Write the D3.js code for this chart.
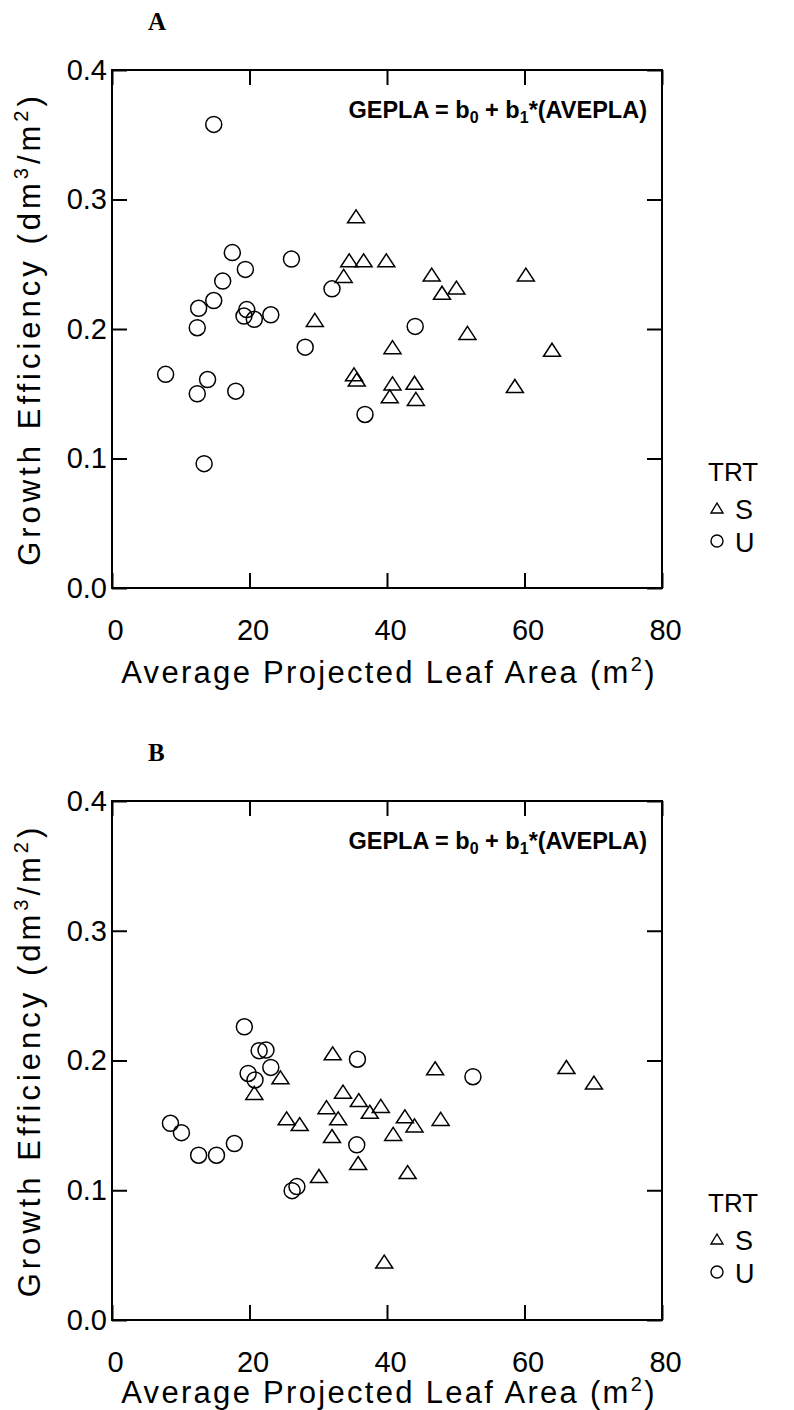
<!DOCTYPE html>
<html>
<head>
<meta charset="utf-8">
<script src="https://cdn.jsdelivr.net/npm/d3@7/dist/d3.min.js"></script>
<style>
  html, body { margin: 0; padding: 0; background: #fff; }
  svg { display: block; }
</style>
</head>
<body>
<svg id="chart" width="794" height="1410"></svg>
<script>
// ---------------- data ----------------
const xTickValues = [0, 20, 40, 60, 80];
const yTickValues = [0.0, 0.1, 0.2, 0.3, 0.4];
const legendTitle = "TRT";
const legendLabels = ["S", "U"];
const panelLabels = ["A", "B"];

// Panel A, treatment S (triangles): [AVEPLA, GEPLA]
const panelA_S = [
  [35.5, 0.287], [34.5, 0.253], [36.6, 0.253], [39.9, 0.253], [33.7, 0.241],
  [46.5, 0.242], [60.2, 0.242], [50.1, 0.232], [48.0, 0.228], [29.5, 0.207],
  [51.7, 0.197], [40.8, 0.186], [64.0, 0.184], [35.2, 0.165], [35.6, 0.161],
  [40.8, 0.158], [44.0, 0.1585], [40.4, 0.148], [44.2, 0.146], [58.6, 0.156]
];
// Panel A, treatment U (circles)
const panelA_U = [
  [14.8, 0.358], [17.5, 0.259], [26.1, 0.254], [19.4, 0.246], [16.1, 0.237],
  [32.0, 0.231], [14.8, 0.222], [12.6, 0.216], [19.6, 0.215], [19.2, 0.210],
  [20.7, 0.2075], [23.1, 0.211], [12.4, 0.201], [44.1, 0.202], [28.1, 0.186],
  [7.8, 0.165], [13.9, 0.161], [12.4, 0.150], [18.0, 0.152], [36.8, 0.134],
  [13.4, 0.096]
];
// Panel B, treatment S (triangles)
const panelB_S = [
  [32.1, 0.2055], [24.5, 0.187], [20.7, 0.175], [33.6, 0.176], [31.2, 0.164],
  [35.9, 0.1695], [37.5, 0.1605], [39.1, 0.165], [25.4, 0.1554], [27.3, 0.151],
  [32.9, 0.1554], [32.0, 0.1418], [40.9, 0.1434], [35.8, 0.121], [30.1, 0.111],
  [39.6, 0.045], [47.0, 0.194], [66.1, 0.195], [70.1, 0.183], [42.6, 0.157],
  [44.0, 0.150], [47.8, 0.155], [43.0, 0.114]
];
// Panel B, treatment U (circles)
const panelB_U = [
  [19.25, 0.226], [21.4, 0.2076], [22.4, 0.208], [23.1, 0.1947], [19.8, 0.190],
  [20.8, 0.185], [35.7, 0.201], [8.5, 0.1516], [10.1, 0.1444], [12.6, 0.127],
  [15.2, 0.127], [17.8, 0.136], [35.6, 0.135], [26.2, 0.0997], [26.9, 0.1028],
  [52.5, 0.1875]
];

// ---------------- layout ----------------
const SANS = "'Liberation Sans', Arial, Helvetica, sans-serif";
const SERIF = "'Liberation Serif', 'Times New Roman', serif";
const svg = d3.select("#chart");
const left = 112, right = 662;
const panels = [
  { label: panelLabels[0], top: 70, bottom: 588, titleGap: 95, S: panelA_S, U: panelA_U },
  { label: panelLabels[1], top: 801, bottom: 1320, titleGap: 83, S: panelB_S, U: panelB_U }
];
const tickLen = 15;
const fmt = d3.format(".1f");

function triPath(w, h) {
  return `M0,${-h/2}L${w/2},${h/2}L${-w/2},${h/2}Z`;
}

panels.forEach(p => {
  const x = d3.scaleLinear().domain([0, 80]).range([left, right]);
  const y = d3.scaleLinear().domain([0, 0.4]).range([p.bottom, p.top]);
  const g = svg.append("g").style("font-family", SANS);

  // bottom axis with labels
  const xb = g.append("g").attr("transform", `translate(0,${p.bottom})`)
    .call(d3.axisBottom(x).tickValues(xTickValues).tickSizeInner(-tickLen).tickSizeOuter(0).tickPadding(31));
  xb.select(".domain").remove();
  xb.selectAll("text").style("font-family", SANS).style("font-size", "29px").attr("fill", "#000").attr("dx", 3);
  // top axis (ticks only)
  const xt = g.append("g").attr("transform", `translate(0,${p.top})`)
    .call(d3.axisTop(x).tickValues(xTickValues).tickSizeInner(-tickLen).tickSizeOuter(0).tickFormat(""));
  xt.select(".domain").remove();
  // left axis with labels
  const yl = g.append("g").attr("transform", `translate(${left},0)`)
    .call(d3.axisLeft(y).tickValues(yTickValues).tickSizeInner(-tickLen).tickSizeOuter(0).tickPadding(5).tickFormat(fmt));
  yl.select(".domain").remove();
  yl.selectAll("text").style("font-family", SANS).style("font-size", "29px").attr("fill", "#000");
  // right axis (ticks only)
  const yr = g.append("g").attr("transform", `translate(${right},0)`)
    .call(d3.axisRight(y).tickValues(yTickValues).tickSizeInner(-tickLen).tickSizeOuter(0).tickFormat(""));
  yr.select(".domain").remove();
  g.selectAll(".tick line").attr("stroke", "#000").attr("stroke-width", 2);

  // frame
  g.append("rect").attr("x", left).attr("y", p.top)
    .attr("width", right - left).attr("height", p.bottom - p.top)
    .attr("fill", "none").attr("stroke", "#000").attr("stroke-width", 2);

  // axis titles
  const xt2 = g.append("text").attr("x", (left + right) / 2 + 2).attr("y", p.bottom + p.titleGap)
    .attr("text-anchor", "middle").style("font-size", "31px").attr("letter-spacing", 2.3);
  xt2.append("tspan").text("Average Projected Leaf Area (m");
  xt2.append("tspan").style("font-size", "20px").attr("dy", -12).text("2");
  xt2.append("tspan").attr("dy", 12).text(")");

  const yt = g.append("text")
    .attr("transform", `translate(40,${(p.top + p.bottom) / 2}) rotate(-90)`)
    .attr("text-anchor", "middle").style("font-size", "31px").attr("letter-spacing", 4);
  yt.append("tspan").text("Growth Efficiency (dm");
  yt.append("tspan").style("font-size", "20px").attr("dy", -12).text("3");
  yt.append("tspan").attr("dy", 12).text("/m");
  yt.append("tspan").style("font-size", "20px").attr("dy", -12).text("2");
  yt.append("tspan").attr("dy", 12).text(")");

  // equation
  const eq = g.append("text").attr("x", 647).attr("y", p.top + 48)
    .attr("text-anchor", "end").style("font-size", "23.5px").attr("font-weight", "bold");
  eq.append("tspan").text("GEPLA = b");
  eq.append("tspan").style("font-size", "16px").attr("dy", 5).text("0");
  eq.append("tspan").attr("dy", -5).text(" + b");
  eq.append("tspan").style("font-size", "16px").attr("dy", 5).text("1");
  eq.append("tspan").attr("dy", -5).text("*(AVEPLA)");

  // panel label
  g.append("text").attr("x", 148).attr("y", p.top - 40)
    .style("font-family", SERIF).attr("font-weight", "bold").style("font-size", "25px").text(p.label);

  // points
  g.selectAll("circle.pt").data(p.U).join("circle").attr("class", "pt")
    .attr("cx", d => x(d[0])).attr("cy", d => y(d[1])).attr("r", 8)
    .attr("fill", "none").attr("stroke", "#000").attr("stroke-width", 1.5);
  g.selectAll("path.pt").data(p.S).join("path").attr("class", "pt")
    .attr("transform", d => `translate(${x(d[0])},${y(d[1])})`)
    .attr("d", triPath(17, 13))
    .attr("fill", "none").attr("stroke", "#000").attr("stroke-width", 1.5);

  // legend
  const ly = p.top + 411;
  g.append("text").attr("x", 708).attr("y", ly).style("font-size", "26px").text(legendTitle);
  g.append("path").attr("transform", `translate(717,${ly + 27})`).attr("d", triPath(12, 10))
    .attr("fill", "none").attr("stroke", "#000").attr("stroke-width", 1.4);
  g.append("text").attr("x", 735).attr("y", ly + 38).style("font-size", "27px").text(legendLabels[0]);
  g.append("circle").attr("cx", 717).attr("cy", ly + 60).attr("r", 6)
    .attr("fill", "none").attr("stroke", "#000").attr("stroke-width", 1.4);
  g.append("text").attr("x", 735).attr("y", ly + 71).style("font-size", "27px").text(legendLabels[1]);
});
</script>
</body>
</html>
